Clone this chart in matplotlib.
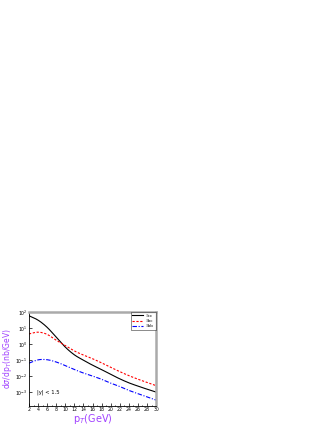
import numpy as np
import matplotlib.pyplot as plt
from matplotlib.ticker import LogLocator, MultipleLocator, NullLocator

# p_T values (GeV) and log10 of the cross sections
pt = [2, 4, 6, 8, 10, 12, 14, 16, 18, 20, 22, 24, 26, 28, 30]
log_xcc = [1.75, 1.50, 1.05, 0.42, -0.22, -0.70, -1.02, -1.33, -1.60, -1.90, -2.18, -2.43, -2.63, -2.82, -3.00]
log_xbc = [0.62, 0.76, 0.62, 0.22, -0.10, -0.45, -0.70, -0.92, -1.18, -1.46, -1.73, -1.98, -2.20, -2.40, -2.60]
log_xbb = [-1.20, -0.97, -0.97, -1.12, -1.35, -1.60, -1.82, -2.00, -2.20, -2.45, -2.65, -2.90, -3.10, -3.30, -3.50]

labels = ['Ξcc', 'Ξbc', 'Ξbb']
purple = '#a040ff'

fig = plt.figure(figsize=(3.32, 4.30), dpi=100)
ax = fig.add_axes([0.0873, 0.0565, 0.3827, 0.2185])

# smooth the read points a little for drawing
xs = np.linspace(2, 30, 200)
for vals, col, ls, lab in [(log_xcc, 'black', '-', labels[0]),
                           (log_xbc, 'red', (0, (2, 1.5)), labels[1]),
                           (log_xbb, 'blue', (0, (4, 1.5, 1, 1.5)), labels[2])]:
    ys = np.interp(xs, pt, vals)
    ys = np.convolve(np.pad(ys, 6, mode='reflect', reflect_type='odd'), np.ones(13) / 13, mode='valid')
    ax.plot(xs, 10 ** ys, color=col, ls=ls, lw=0.8, label=lab)

ax.set_yscale('log')
ax.set_xlim(2, 30)
ax.set_ylim(10 ** -3.85, 1e2)
ax.xaxis.set_major_locator(MultipleLocator(2))
ax.xaxis.set_minor_locator(MultipleLocator(1))
ax.yaxis.set_major_locator(LogLocator(base=10, numticks=10))
ax.yaxis.set_minor_locator(NullLocator())
ax.tick_params(which='both', direction='in', labelsize=3.3, width=0.5, pad=1.2)
ax.tick_params(which='major', length=2)
ax.tick_params(which='minor', length=1)

for side in ['left', 'bottom']:
    ax.spines[side].set_linewidth(0.6)
for side in ['top', 'right']:
    ax.spines[side].set_color('#aaaaaa')
    ax.spines[side].set_linewidth(1.8)

ax.set_xlabel('p$_T$(GeV)', color=purple, fontsize=7, labelpad=0)
ax.set_ylabel('d$\\sigma$/dp$_T$(nb/GeV)', color=purple, fontsize=5.5, labelpad=0.5)
ax.text(3.7, 10 ** -3.0, '|y| < 1.5', fontsize=3.8, va='center')

leg = ax.legend(loc='upper right', fontsize=3, handlelength=2.5, frameon=True,
                fancybox=False, borderpad=0.4, labelspacing=0.3,
                borderaxespad=0.1)
leg.get_frame().set_edgecolor('black')
leg.get_frame().set_linewidth(0.4)

fig.savefig('out.png', dpi=100)
